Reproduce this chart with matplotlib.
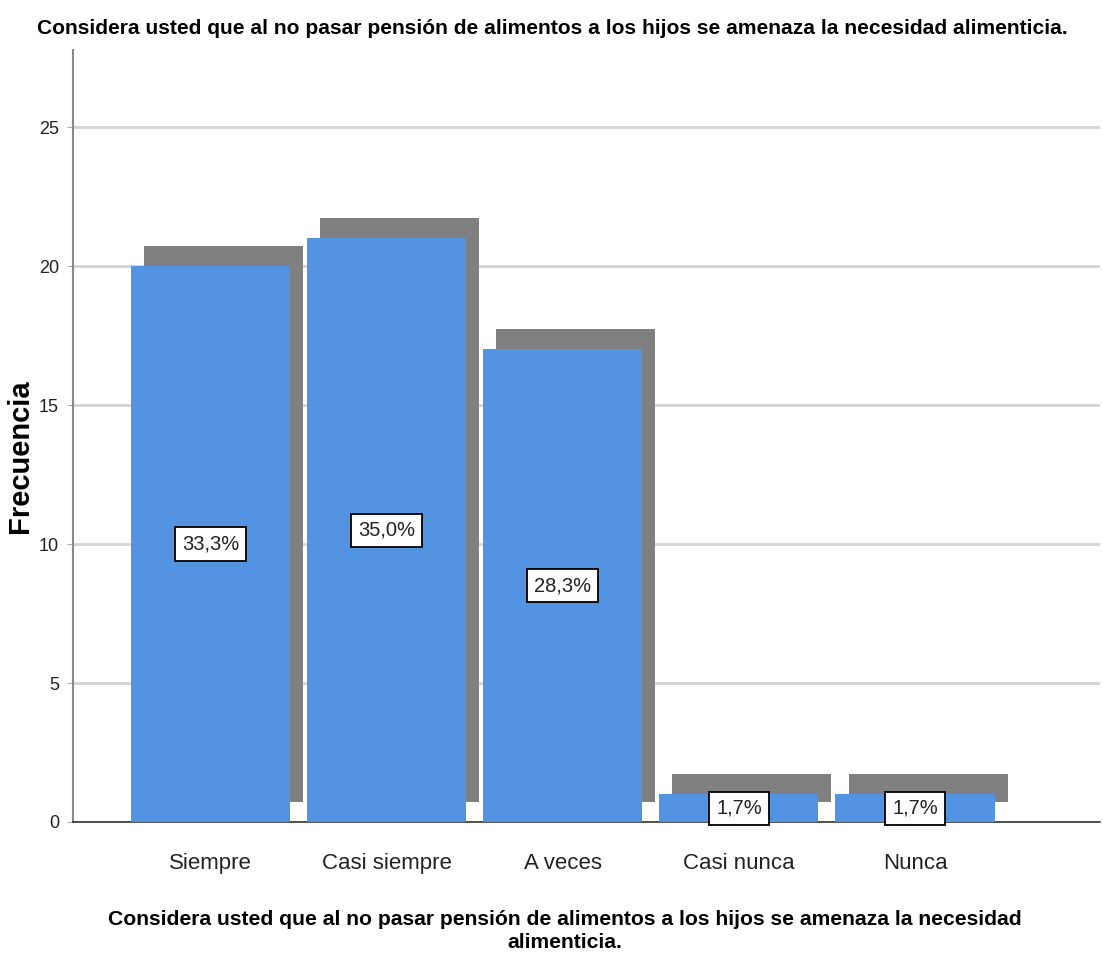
import matplotlib.pyplot as plt
import numpy as np

categorias = ['Siempre', 'Casi siempre', 'A veces', 'Casi nunca', 'Nunca']
frecuencias = [20, 21, 17, 1, 1]
porcentajes = ['33,3%', '35,0%', '28,3%', '1,7%', '1,7%']
titulo = 'Considera usted que al no pasar pensión de alimentos a los hijos se amenaza la necesidad alimenticia.'
etiqueta_x = ('Considera usted que al no pasar pensión de alimentos a los hijos se amenaza la necesidad\n'
              'alimenticia.')

plt.rcParams['font.family'] = ['Liberation Sans', 'DejaVu Sans']

fig = plt.figure(figsize=(11.03, 9.67), dpi=100)
ax = fig.add_axes([73 / 1103, 145 / 967, 1027 / 1103, 772 / 967])

x = np.arange(len(categorias))
ancho = 0.903
dx, dy = 0.074, 0.72

# sombra gris detras de cada barra
ax.bar(x + dx, frecuencias, width=ancho, bottom=dy, color='#808080', zorder=2)
ax.bar(x, frecuencias, width=ancho, color='#5294e2', zorder=3)

for xi, f, p in zip(x, frecuencias, porcentajes):
    ax.text(xi, f / 2, p, ha='center', va='center', fontsize=14.5, color='#222222', zorder=5,
            bbox=dict(boxstyle='square,pad=0.35', facecolor='white', edgecolor='black', linewidth=1.3))

ax.set_xlim(-0.78, 5.05)
ax.set_ylim(0, 27.77)
ax.set_yticks([0, 5, 10, 15, 20, 25])
ax.yaxis.grid(True, color='#d4d4d4', linewidth=2, zorder=0)
ax.set_axisbelow(True)
ax.set_xticks(x)
ax.set_xticklabels(categorias, fontsize=16, color='#222222')
ax.tick_params(axis='x', length=0, pad=22)
ax.tick_params(axis='y', length=4, color='#aaaaaa', labelsize=13, labelcolor='#222222', pad=6)

for s in ['top', 'right']:
    ax.spines[s].set_visible(False)
ax.spines['left'].set_color('#888888')
ax.spines['left'].set_linewidth(1.5)
ax.spines['bottom'].set_color('#333333')
ax.spines['bottom'].set_linewidth(1.2)

fig.text(552 / 1103, 1 - 28 / 967, titulo, ha='center', va='center', fontsize=15.1,
         fontweight='bold', color='black')
fig.text(565 / 1103, 1 - 931 / 967, etiqueta_x, ha='center', va='center', fontsize=15.2,
         fontweight='bold', color='black', linespacing=1.25)
fig.text(20 / 1103, 1 - 456 / 967, 'Frecuencia', ha='center', va='center', rotation=90,
         fontsize=21, fontweight='bold')

fig.savefig('out.png', dpi=100)
